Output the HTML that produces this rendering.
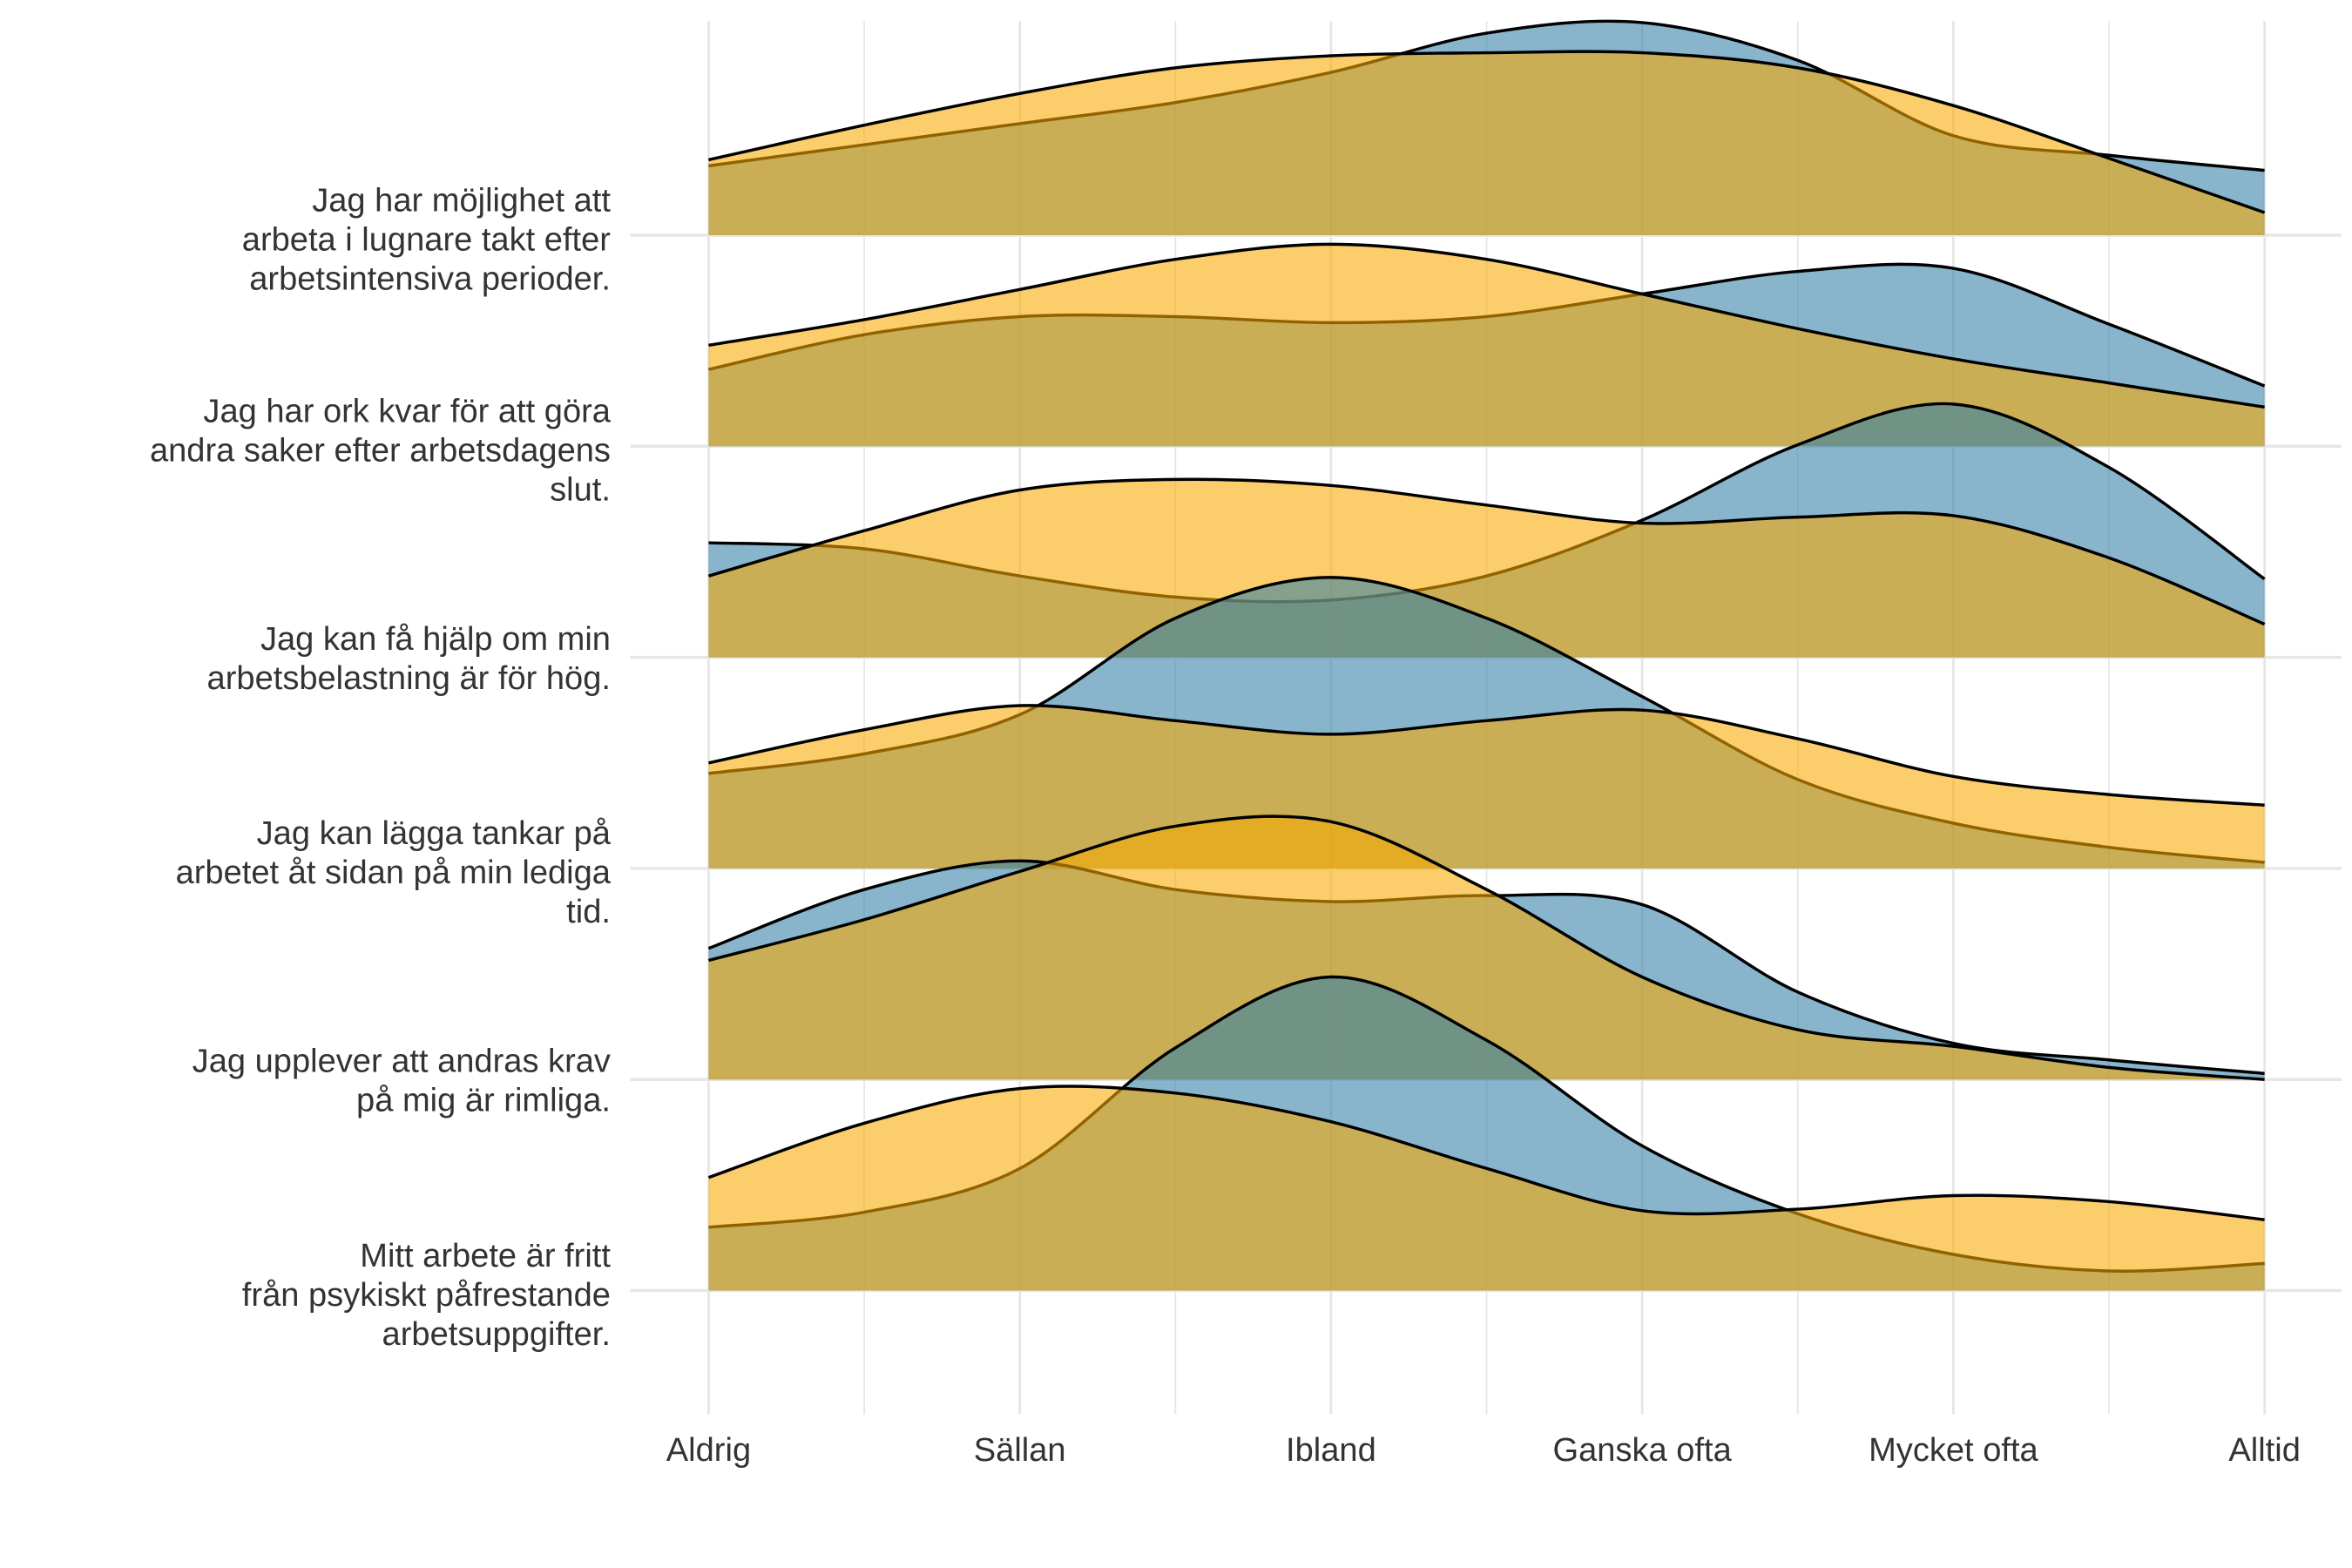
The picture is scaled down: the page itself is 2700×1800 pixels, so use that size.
<!DOCTYPE html>
<html><head><meta charset="utf-8">
<style>
html,body{margin:0;padding:0;background:#fff;}
svg{display:block;}
text{font-family:"Liberation Sans",sans-serif;fill:#333;}
</style></head>
<body>
<svg id="chart" width="2700" height="1800" viewBox="0 0 1560 1040" xmlns="http://www.w3.org/2000/svg">
<g id="grid"></g>
<g id="ridges"></g>
<g id="ylabels"></g>
<g id="xlabels"></g>
</svg>
<script>
const categories = ["Aldrig","Sällan","Ibland","Ganska ofta","Mycket ofta","Alltid"];
const questions = [
 ["Jag har möjlighet att","arbeta i lugnare takt efter","arbetsintensiva perioder."],
 ["Jag har ork kvar för att göra","andra saker efter arbetsdagens","slut."],
 ["Jag kan få hjälp om min","arbetsbelastning är för hög."],
 ["Jag kan lägga tankar på","arbetet åt sidan på min lediga","tid."],
 ["Jag upplever att andras krav","på mig är rimliga."],
 ["Mitt arbete är fritt","från psykiskt påfrestande","arbetsuppgifter."]
];
// density heights sampled at 0,0.5,...,5 on the category scale
const blueSeries = [
 [46,60,74,88,108,134,141,116,66,53,43],
 [51,74,86,86,82,86,101,116,118,81,40],
 [76,72,54,40,38,54,91,141,168,126,52],
 [63,76,102,166,193,166,114,59,30,14,4],
 [87,126,145,126,118,122,116,58,24,13,4],
 [42,52,81,161,208,166,96,51,24,13,18]
];
const yellowSeries = [
 [50,73,94,111,119,121,121,111,86,51,15],
 [67,84,104,124,134,124,101,78,58,42,26],
 [54,84,111,118,114,101,89,93,94,66,22],
 [70,92,108,98,89,98,105,86,61,49,42],
 [79,106,138,168,171,126,68,33,22,8,0],
 [75,111,134,131,112,81,53,54,63,59,47]
];
const NS="http://www.w3.org/2000/svg";
const x0=470, x1=1502, top0=156, rowGap=140;
const xScale = v => x0 + (x1-x0)*v/5;
const baseY = i => top0 + i*rowGap;
const hScale = v => v;
function mk(tag,attrs,parent){const e=document.createElementNS(NS,tag);for(const k in attrs)e.setAttribute(k,attrs[k]);parent.appendChild(e);return e;}
const grid=document.getElementById('grid');
for(let k=0;k<=10;k++){
 const l=mk('line',{x1:xScale(k/2),x2:xScale(k/2),y1:14,y2:938,stroke:'#e6e6e6','stroke-width':k%2?1:1.6},grid);
 
 
}
for(let i=0;i<6;i++){
 const l=mk('line',{x1:418,x2:1553,y1:baseY(i),y2:baseY(i),stroke:'#e6e6e6','stroke-width':2},grid);
 
 
}
function curve(vals,b){
 const pts=vals.map((v,j)=>[xScale(j*0.5),b-hScale(v)]);
 let d=`M${pts[0][0]},${pts[0][1]}`;
 for(let j=0;j<pts.length-1;j++){
  const p0=pts[Math.max(j-1,0)],p1=pts[j],p2=pts[j+1],p3=pts[Math.min(j+2,pts.length-1)];
  const c1=[p1[0]+(p2[0]-p0[0])/6,p1[1]+(p2[1]-p0[1])/6];
  const c2=[p2[0]-(p3[0]-p1[0])/6,p2[1]-(p3[1]-p1[1])/6];
  d+=` C${c1[0]},${c1[1]} ${c2[0]},${c2[1]} ${p2[0]},${p2[1]}`;
 }
 return d;
}
const ridges=document.getElementById('ridges');
for(let i=0;i<6;i++){
 const b=baseY(i);
 const g=mk('g',{},ridges);
 
 
 [[blueSeries[i],'rgb(50,128,167)','blue'],[yellowSeries[i],'rgb(248,169,0)','yellow']].forEach(([vals,col,nm])=>{
  const c=curve(vals,b);
  const f=mk('path',{d:c+` L${x1},${b} L${x0},${b} Z`,fill:col,'fill-opacity':0.58,stroke:'none'},g);
  
  
  const s=mk('path',{d:c,fill:'none',stroke:'#000','stroke-width':2}, g);
  
  
 });
}
const yl=document.getElementById('ylabels');
questions.forEach((lines,i)=>{
 const b=baseY(i);
 const t=mk('text',{x:405,'text-anchor':'end','font-size':22},yl);
 
 
 const start = lines.length===3 ? b-16 : b-5;
 lines.forEach((ln,k)=>{const ts=mk('tspan',{x:405,y:start+k*26},t);ts.textContent=ln;});
});
const xl=document.getElementById('xlabels');
categories.forEach((c,j)=>{
 const t=mk('text',{x:xScale(j),y:969,'text-anchor':'middle','font-size':22},xl);
 
 
 t.textContent=c;
});
</script>
</body></html>
